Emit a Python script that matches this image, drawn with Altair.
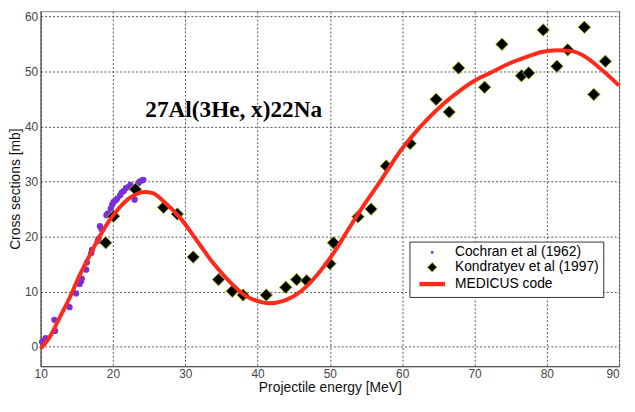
import altair as alt
import pandas as pd

SERIES = ["Cochran et al (1962)", "Kondratyev et al (1997)", "\u00a0MEDICUS code"]
FILLS = ["#7b2fd6", "#000000", "#ff2a1a"]
STROKES = ["#7b2fd6", "#8fbf10", "#ff2a1a"]

# Cochran et al (1962)
coch_x = [10.2, 10.5, 10.7, 11.9, 12.0, 14.0, 14.9, 15.4, 15.6, 15.7, 16.3, 16.4, 17.0,
          17.1, 17.9, 18.0, 18.2, 18.4, 19.1, 19.3, 19.7, 19.9, 20.1, 20.4, 20.6, 21.0,
          21.2, 21.5, 21.8, 22.1, 22.4, 23.0, 23.5, 23.7, 24.0, 24.2]
coch_y = [0.9, 1.2, 1.6, 4.9, 2.9, 7.2, 9.7, 11.4, 11.9, 12.4, 14.0, 15.3, 17.0,
          17.6, 19.2, 19.6, 21.9, 21.4, 23.9, 24.2, 25.1, 25.8, 26.3, 26.6, 26.9, 27.5,
          28.0, 28.3, 28.8, 29.0, 29.4, 26.7, 29.7, 30.0, 30.2, 30.3]

# Kondratyev et al (1997)
kond_x = [19.0, 20.1, 23.1, 27.0, 28.9, 31.1, 34.6, 36.5, 38.0, 41.2, 43.9, 45.4, 46.8,
          50.0, 50.5, 53.9, 55.7, 57.8, 61.1, 64.7, 66.5, 67.8, 71.4, 73.8, 76.5, 77.5,
          79.5, 81.4, 82.9, 85.2, 86.5, 88.1]
kond_y = [18.9, 23.7, 28.6, 25.3, 24.1, 16.3, 12.2, 10.1, 9.4, 9.4, 10.8, 12.2, 12.0,
          15.1, 18.9, 23.6, 25.0, 32.8, 36.9, 44.9, 42.6, 50.6, 47.1, 54.9, 49.2, 49.7,
          57.5, 50.9, 53.9, 58.0, 45.8, 51.8]

# MEDICUS code
med_x = [10.0, 11.35, 12.7, 14.05, 15.4, 16.75, 18.1, 19.45, 20.8, 22.1, 23.2, 24.4, 25.5,
         27.1, 29.3, 31.6, 33.8, 36.1, 38.3, 40.6, 41.5, 43.7, 46.0, 48.2, 50.5, 52.5,
         54.5, 56.8, 59.9, 61.3, 63.5, 65.8, 68.0, 70.3, 72.5, 74.8, 77.0, 79.3, 81.5,
         83.3, 85.1, 87.4, 90.0]
med_y = [-0.3, 2.0, 5.5, 9.0, 13.0, 16.5, 19.9, 22.8, 25.1, 26.8, 27.7, 28.1, 27.9,
         26.3, 23.4, 19.3, 15.3, 11.9, 9.3, 8.1, 7.9, 8.4, 10.1, 13.0, 17.0, 21.2,
         25.3, 29.7, 35.8, 38.1, 41.3, 44.2, 46.5, 48.5, 49.9, 51.4, 52.5, 53.5, 53.8,
         53.7, 52.8, 50.5, 47.4]

TITLE = "27Al(3He, x)22Na"
title_x = [36.7]
title_y = [43.0]

coch = pd.DataFrame({"x": coch_x, "y": coch_y})
kond = pd.DataFrame({"x": kond_x, "y": kond_y})
med = pd.DataFrame({"x": med_x, "y": med_y})
ann = pd.DataFrame({"x": title_x, "y": title_y, "t": [TITLE]})
leg = pd.DataFrame({"series": SERIES})

xs = alt.Scale(domain=[10, 90], nice=False, zero=False)
ys = alt.Scale(domain=[-3.5, 60.9], nice=False, zero=False)

xaxis = alt.Axis(title="Projectile energy [MeV]", values=list(range(10, 100, 10)),
                 grid=True, ticks=False, labelPadding=2, titlePadding=2,
                 labelAlign={"condition": {"test": "datum.value >= 90", "value": "right"},
                             "value": "center"})
yaxis = alt.Axis(title="Cross sections [mb]", values=list(range(0, 70, 10)),
                 grid=True, ticks=False, labelPadding=3, titlePadding=2)

legend = alt.Legend(title=None, orient="none", legendX=373, legendY=233)

line = alt.Chart(med).mark_line(strokeWidth=4, interpolate="monotone", color=FILLS[2]).encode(
    x=alt.X("x:Q", scale=xs, axis=xaxis),
    y=alt.Y("y:Q", scale=ys, axis=yaxis),
)

kpts = alt.Chart(kond).mark_point(filled=True, opacity=1, size=160, shape="diamond",
                                  fill=FILLS[1], stroke=STROKES[1], strokeWidth=1).encode(
    x=alt.X("x:Q", scale=xs), y=alt.Y("y:Q", scale=ys))

cpts = alt.Chart(coch).mark_point(filled=True, opacity=1, size=40, shape="circle",
                                  color=FILLS[0]).encode(
    x=alt.X("x:Q", scale=xs), y=alt.Y("y:Q", scale=ys))

txt = alt.Chart(ann).mark_text(font="Liberation Serif", fontWeight="bold", fontSize=23.5,
                               baseline="middle", align="center", color="#000000").encode(
    x=alt.X("x:Q", scale=xs), y=alt.Y("y:Q", scale=ys), text="t:N")

# legend-only layer (no visible marks): drives the single combined legend
legend_layer = alt.Chart(leg).mark_point(filled=True, opacity=1).transform_filter(
    "datum.series == 'none'"
).encode(
    x=alt.value(0), y=alt.value(0),
    color=alt.Color("series:N", scale=alt.Scale(domain=SERIES, range=FILLS), legend=legend),
    stroke=alt.Stroke("series:N", scale=alt.Scale(domain=SERIES, range=["transparent", STROKES[1], STROKES[2]]), legend=legend),
    shape=alt.Shape("series:N", scale=alt.Scale(domain=SERIES, range=["circle", "diamond", "M-3.7,0H3.7"]), legend=legend),
    size=alt.Size("series:N", scale=alt.Scale(type="ordinal", domain=SERIES, range=[8, 90, 49]), legend=legend),
    strokeWidth=alt.StrokeWidth("series:N", scale=alt.Scale(type="ordinal", domain=SERIES, range=[0, 1, 4.5]), legend=legend),
)

chart = alt.layer(cpts, kpts, line, txt, legend_layer).properties(
    width=626, height=392,
    autosize=alt.AutoSizeParams(type="fit", contains="padding"),
    padding={"left": 0, "top": 0, "right": 0, "bottom": 3},
).configure_view(stroke="#888888", strokeWidth=1).configure_axis(
    domainColor="#555555", domainWidth=1.2,
    gridColor="#444444", gridDash=[2, 2], gridWidth=1, gridOpacity=0.9,
    labelFont="Liberation Sans", labelFontSize=12, labelColor="#444444",
    titleFont="Liberation Sans", titleFontSize=14, titleFontWeight="normal", titleColor="#111111",
).configure_legend(
    fillColor="white", strokeColor="#333333", padding=4, cornerRadius=0,
    labelFont="Liberation Sans", labelFontSize=14, labelColor="#000000",
    symbolOffset=12, labelOffset=16, rowPadding=1, labelLimit=400,
)

chart.save("out.html", embed_options={"renderer": "svg", "actions": False})
